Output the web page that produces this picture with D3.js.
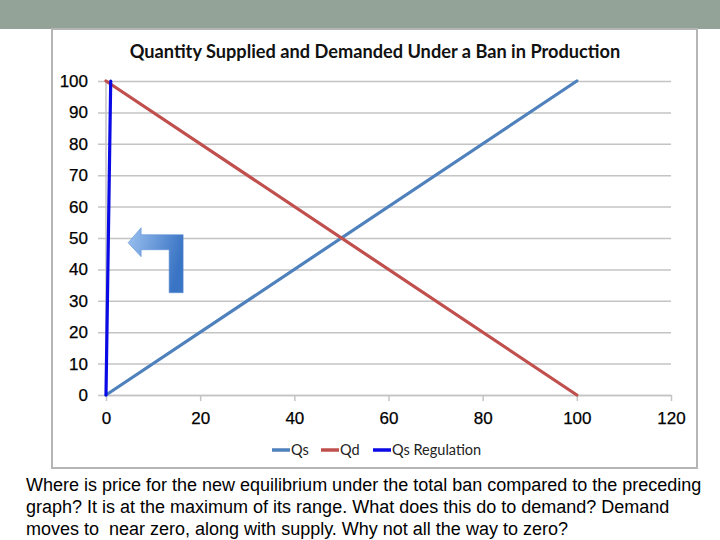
<!DOCTYPE html>
<html>
<head>
<meta charset="utf-8">
<script src="https://cdn.jsdelivr.net/npm/d3@7"></script>
<style>
  body { margin: 0; background: #fff; }
  svg { display: block; }
  .caption { white-space: pre; }
</style>
</head>
<body>
<svg class="chart"></svg>
<script>
// series data
const qsX = [0, 100];
const qsY = [0, 100];
const qdX = [0, 100];
const qdY = [100, 0];
const regX = [0, 1];
const regY = [0, 100];

const seriesNames = ["Qs", "Qd", "Qs Regulation"];
const seriesColors = ["#4f81bd", "#c0504d", "#0a0ae6"];

const xTicks = [0, 20, 40, 60, 80, 100, 120];
const yTicks = [0, 10, 20, 30, 40, 50, 60, 70, 80, 90, 100];

const titleText = "Quantity Supplied and Demanded Under a Ban in Production";
const captionLines = [
    "Where is price for the new equilibrium under the total ban compared to the preceding",
    "graph? It is at the maximum of its range. What does this do to demand? Demand",
    "moves to  near zero, along with supply. Why not all the way to zero?"
];

// arrow anchor (tip) in data units
const arrowTip = {x: 4.7, y: 48.5};

const canvas = {width: 720, height: 540};
const frame = {left: 52, top: 29, right: 697, bottom: 468};
const plot = {left: 106, right: 671, top: 81, bottom: 395};

const svg = d3.select(".chart")
    .attr("width", canvas.width)
    .attr("height", canvas.height);

// header band
svg.append("rect")
    .attr("x", 0).attr("y", 0)
    .attr("width", canvas.width).attr("height", 29)
    .attr("fill", "#93a398");

// chart frame
svg.append("rect")
    .attr("x", frame.left).attr("y", frame.top)
    .attr("width", frame.right - frame.left)
    .attr("height", frame.bottom - frame.top)
    .attr("fill", "#fff")
    .attr("stroke", "#b5b5b5")
    .attr("stroke-width", 2);

svg.append("text")
    .attr("x", 375).attr("y", 58)
    .attr("text-anchor", "middle")
    .style("font-family", "Lato, 'Open Sans', sans-serif")
    .style("font-weight", "bold")
    .style("font-size", "18.2px")
    .attr("fill", "#111")
    .text(titleText);

const x = d3.scaleLinear().domain([0, 120]).range([plot.left, plot.right]);
const y = d3.scaleLinear().domain([0, 100]).range([plot.bottom, plot.top]);

// horizontal gridlines (with left tick stubs)
const yAxis = d3.axisLeft(y)
    .tickValues(yTicks)
    .tickSize(-(plot.right - plot.left))
    .tickSizeOuter(0)
    .tickPadding(18);

const yG = svg.append("g")
    .attr("transform", "translate(" + plot.left + ",0)")
    .call(yAxis);
yG.select(".domain").remove();
yG.selectAll(".tick line")
    .attr("x1", -8)
    .attr("stroke", "#c4c4c4")
    .attr("stroke-width", 1.5);
yG.selectAll(".tick text")
    .style("font-family", "'Liberation Sans', Arial, sans-serif")
    .style("font-size", "17px")
    .attr("fill", "#000")
    .attr("stroke", "#000")
    .attr("stroke-width", 0.25);

// y axis line
svg.append("line")
    .attr("x1", plot.left).attr("x2", plot.left)
    .attr("y1", plot.top).attr("y2", plot.bottom)
    .attr("stroke", "#c4c4c4")
    .attr("stroke-width", 1.5);

// x axis
const xAxis = d3.axisBottom(x)
    .tickValues(xTicks)
    .tickSize(6)
    .tickSizeOuter(0)
    .tickPadding(11);

const xG = svg.append("g")
    .attr("transform", "translate(0," + plot.bottom + ")")
    .call(xAxis);
xG.select(".domain").attr("stroke", "#c4c4c4").attr("stroke-width", 1.5);
xG.selectAll(".tick line").attr("stroke", "#c4c4c4").attr("stroke-width", 1.5);
xG.selectAll(".tick text")
    .style("font-family", "'Liberation Sans', Arial, sans-serif")
    .style("font-size", "17px")
    .attr("fill", "#000")
    .attr("stroke", "#000")
    .attr("stroke-width", 0.25);

// lines
const seriesData = [
    d3.zip(qsX, qsY),
    d3.zip(qdX, qdY),
    d3.zip(regX, regY)
];

const line = d3.line()
    .x(function (d) { return x(d[0]); })
    .y(function (d) { return y(d[1]); });

svg.selectAll(".series")
    .data(seriesData)
    .enter()
    .append("path")
    .classed("series", true)
    .attr("d", line)
    .attr("fill", "none")
    .attr("stroke", function (d, i) { return seriesColors[i]; })
    .attr("stroke-width", 3.2)
    .attr("stroke-linecap", "round");

// bent arrow annotation
const defs = svg.append("defs");
const grad = defs.append("linearGradient")
    .attr("id", "arrowGrad")
    .attr("x1", "0%").attr("y1", "0%")
    .attr("x2", "100%").attr("y2", "30%");
grad.append("stop").attr("offset", "0%").attr("stop-color", "#9cc2f0");
grad.append("stop").attr("offset", "100%").attr("stop-color", "#3a74c4");

const ax = x(arrowTip.x), ay = y(arrowTip.y);
const arrowPath = d3.path();
arrowPath.moveTo(ax, ay);
arrowPath.lineTo(ax + 13, ay - 15);
arrowPath.lineTo(ax + 13, ay - 8);
arrowPath.lineTo(ax + 55, ay - 8);
arrowPath.lineTo(ax + 55, ay + 50);
arrowPath.lineTo(ax + 41, ay + 50);
arrowPath.lineTo(ax + 41, ay + 7);
arrowPath.lineTo(ax + 13, ay + 7);
arrowPath.lineTo(ax + 13, ay + 14);
arrowPath.closePath();

svg.append("path")
    .attr("d", arrowPath.toString())
    .attr("fill", "url(#arrowGrad)")
    .attr("stroke", "#5a8fd6")
    .attr("stroke-width", 0.6);

// legend
const legendStart = [272, 321, 373];
const legend = svg.selectAll(".legend-item")
    .data(seriesNames)
    .enter()
    .append("g")
    .classed("legend-item", true)
    .attr("transform", function (d, i) { return "translate(" + legendStart[i] + ",450)"; });

legend.append("line")
    .attr("x1", 0).attr("x2", 18)
    .attr("stroke", function (d, i) { return seriesColors[i]; })
    .attr("stroke-width", 3.5);

legend.append("text")
    .attr("x", 19).attr("y", 5)
    .style("font-family", "Lato, 'Open Sans', sans-serif")
    .style("font-size", "14.5px")
    .attr("fill", "#222")
    .text(function (d) { return d; });

// caption
svg.selectAll(".caption")
    .data(captionLines)
    .enter()
    .append("text")
    .classed("caption", true)
    .attr("x", 26)
    .attr("y", function (d, i) { return 491 + i * 22; })
    .style("font-family", "'Liberation Sans', Arial, sans-serif")
    .style("font-size", "18px")
    .attr("fill", "#000")
    .text(function (d) { return d; });
</script>
</body>
</html>
